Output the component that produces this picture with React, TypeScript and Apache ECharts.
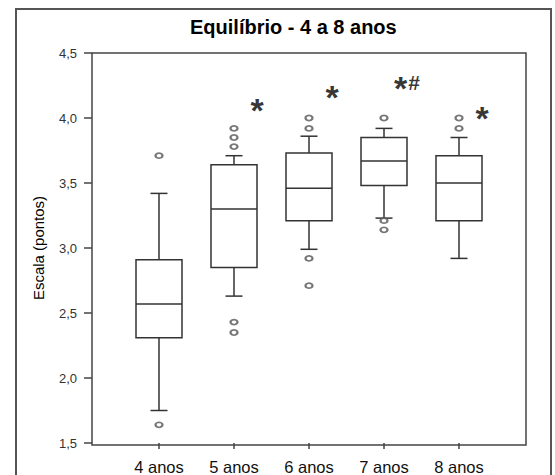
import React, { useEffect, useRef } from "react";
import * as echarts from "echarts";

const categories = ["4 anos", "5 anos", "6 anos", "7 anos", "8 anos"];
const whiskerLow = [1.75, 2.63, 2.99, 3.23, 2.92];
const q1 = [2.31, 2.85, 3.21, 3.48, 3.21];
const median = [2.57, 3.3, 3.46, 3.67, 3.5];
const q3 = [2.91, 3.64, 3.73, 3.85, 3.71];
const whiskerHigh = [3.42, 3.71, 3.86, 3.92, 3.85];
const outliers: [number, number][] = [
  [0, 3.71], [0, 1.64],
  [1, 3.92], [1, 3.85], [1, 3.78], [1, 2.43], [1, 2.35],
  [2, 4.0], [2, 3.92], [2, 2.92], [2, 2.71],
  [3, 4.0], [3, 3.21], [3, 3.14],
  [4, 4.0], [4, 3.92],
];
const annotationText = ["", "*", "*", "*#", "*"];
const annotationValue = [0, 4.1, 4.2, 4.27, 4.04];
const yTicks = { min: 1.5, max: 4.5, interval: 0.5 };

export default function App() {
  const ref = useRef<HTMLDivElement>(null);
  useEffect(() => {
    if (!ref.current) return;
    const chart = echarts.init(ref.current, null, { renderer: "svg" });
    const boxData = categories.map((_, i) => [i, whiskerLow[i], q1[i], median[i], q3[i], whiskerHigh[i]]);
    const annData = categories
      .map((_, i) => ({ i, t: annotationText[i], v: annotationValue[i] }))
      .filter((d) => d.t !== "")
      .map((d) => ({ value: [d.i, d.v], name: d.t }));
    const lineColor = "#333";
    chart.setOption({
      animation: false,
      title: {
        text: "Equilíbrio - 4 a 8 anos",
        left: 185,
        top: 12,
        textStyle: { fontFamily: "Liberation Sans", fontSize: 20, fontWeight: "bold", color: "#000" },
      },
      grid: { left: 121.5, right: 58.5, top: 53, bottom: 30 },
      xAxis: {
        type: "category",
        data: categories,
        axisLine: { show: false },
        axisTick: { show: true, alignWithLabel: true, length: 6, lineStyle: { color: "#444", width: 1.5 } },
        axisLabel: { fontFamily: "Liberation Sans", fontSize: 16.5, color: "#111", margin: 15 },
        splitLine: { show: false },
      },
      yAxis: {
        type: "value",
        min: yTicks.min,
        max: yTicks.max,
        interval: yTicks.interval,
        offset: 29.5,
        name: "Escala (pontos)",
        nameLocation: "middle",
        nameRotate: 90,
        nameGap: 46,
        nameTextStyle: { fontFamily: "Liberation Sans", fontSize: 15, color: "#000" },
        axisLine: { show: false },
        axisTick: { show: true, length: 8, lineStyle: { color: "#444", width: 1.5 } },
        axisLabel: {
          fontFamily: "Liberation Sans",
          fontSize: 13,
          color: "#333",
          margin: 15,
          formatter: (v: number) => v.toFixed(1).replace(".", ","),
        },
        splitLine: { show: false },
      },
      graphic: [
        {
          type: "polyline",
          shape: { points: [[16, 476], [16, 9], [551, 9], [551, 476]] },
          style: { fill: "none", stroke: "#555", lineWidth: 2 },
          silent: true,
        },
        {
          type: "rect",
          shape: { x: 92, y: 53, width: 434, height: 392 },
          style: { fill: "none", stroke: "#444", lineWidth: 1.5 },
          silent: true,
        },
      ],
      series: [
        {
          type: "custom",
          data: boxData,
          renderItem: (params: any, api: any) => {
            const x = api.value(0);
            const lo = api.coord([x, api.value(1)]);
            const b1 = api.coord([x, api.value(2)]);
            const md = api.coord([x, api.value(3)]);
            const b3 = api.coord([x, api.value(4)]);
            const hi = api.coord([x, api.value(5)]);
            const cx = lo[0];
            const hw = 23;
            const cw = 8.5;
            const st = { stroke: lineColor, lineWidth: 1.5, fill: "none" };
            return {
              type: "group",
              children: [
                { type: "line", shape: { x1: cx, y1: hi[1], x2: cx, y2: b3[1] }, style: st },
                { type: "line", shape: { x1: cx, y1: b1[1], x2: cx, y2: lo[1] }, style: st },
                { type: "line", shape: { x1: cx - cw, y1: hi[1], x2: cx + cw, y2: hi[1] }, style: st },
                { type: "line", shape: { x1: cx - cw, y1: lo[1], x2: cx + cw, y2: lo[1] }, style: st },
                { type: "rect", shape: { x: cx - hw, y: b3[1], width: hw * 2, height: b1[1] - b3[1] }, style: { stroke: lineColor, lineWidth: 1.5, fill: "#fff" } },
                { type: "line", shape: { x1: cx - hw, y1: md[1], x2: cx + hw, y2: md[1] }, style: st },
              ],
            };
          },
        },
        {
          type: "scatter",
          data: outliers,
          symbol: "emptyCircle",
          symbolSize: [7, 5],
          z: 5,
          itemStyle: { color: "#555", borderColor: "#555", borderWidth: 1 },
        },
        {
          type: "scatter",
          data: annData,
          symbolSize: 0,
          itemStyle: { color: "transparent" },
          label: {
            show: true,
            position: "inside",
            offset: [23, 5],
            formatter: (p: any) => (p.name === "*#" ? "{a|*}{b|#}" : "{a|*}"),
            rich: {
              a: { fontFamily: "Liberation Sans", fontSize: 34, fontWeight: "bold", color: "#000" },
              b: { fontFamily: "Liberation Sans", fontSize: 21, fontWeight: "bold", color: "#000", verticalAlign: "top", padding: [1, 0, 0, 1] },
            },
          },
        },
      ],
    });
    return () => chart.dispose();
  }, []);
  return <div ref={ref} style={{ width: 555, height: 475, position: "absolute", left: 0, top: 0 }} />;
}
